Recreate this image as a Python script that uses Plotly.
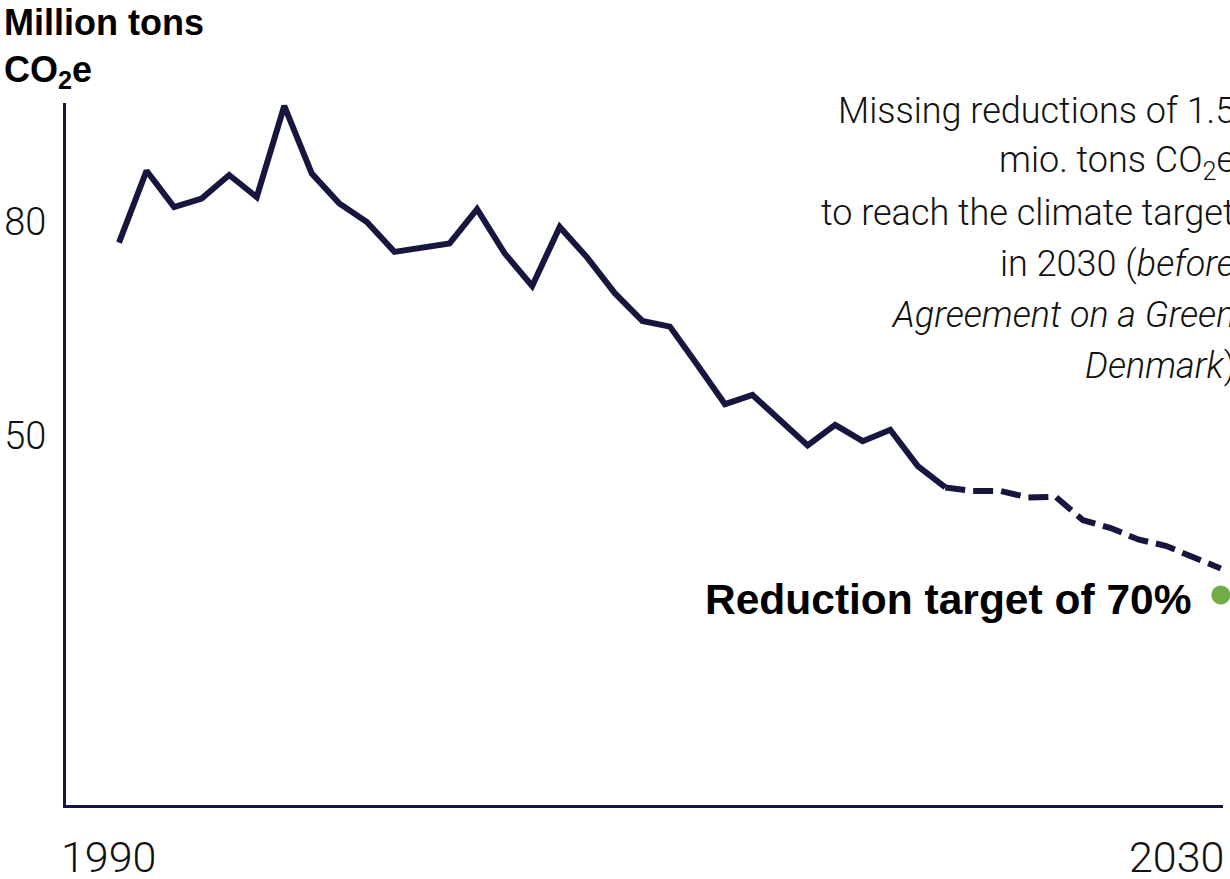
import plotly.graph_objects as go

# Historical emissions, 1990-2020 (million tons CO2e)
hist_years = list(range(1990, 2021))
hist_values = [77.1, 87.2, 82.1, 83.3, 86.6, 83.5, 96.3, 86.8, 82.6, 80.0,
               75.8, 76.4, 77.0, 81.8, 75.6, 71.0, 79.3, 75.0, 70.0, 66.1,
               65.3, 59.9, 54.4, 55.7, 52.2, 48.6, 51.5, 49.2, 50.8, 45.7,
               42.7]

# Projection, 2020-2030
proj_years = list(range(2020, 2031))
proj_values = [42.7, 42.2, 42.2, 41.3, 41.4, 38.1, 37.0, 35.4, 34.5, 33.0, 31.3]

# 70% reduction target in 2030
target_year = 2030
target_value = 27.6

y_ticks = [50, 80]
x_labels = ["1990", "2030"]

note_lines = [
    "Missing reductions of 1.5",
    "mio. tons CO<sub>2</sub>e",
    "to reach the climate target",
    "in 2030 (<i>before</i>",
    "<i>Agreement on a Green</i>",
    "<i>Denmark</i>)",
]

NAVY = "#16163f"
GREEN = "#70ad47"
LIGHT_FONT = "Roboto Light, Roboto, sans-serif"
BOLD_FONT = "Liberation Sans, Arial, sans-serif"

fig = go.Figure()

fig.add_trace(go.Scatter(
    x=hist_years, y=hist_values, mode="lines",
    line=dict(color=NAVY, width=6), cliponaxis=False, hoverinfo="skip",
))
fig.add_trace(go.Scatter(
    x=proj_years, y=proj_values, mode="lines",
    line=dict(color=NAVY, width=6, dash="20px,8px"), cliponaxis=False,
    hoverinfo="skip",
))
fig.add_trace(go.Scatter(
    x=[target_year], y=[target_value], mode="markers",
    marker=dict(color=GREEN, size=19), cliponaxis=False, hoverinfo="skip",
))

light = dict(family=LIGHT_FONT, color="#111111", weight=300)

annotations = [
    dict(text="<b>Reduction target of 70%</b>", x=target_year, y=target_value,
         xref="x", yref="y", xanchor="right", yanchor="middle", xshift=-28,
         yshift=-5, showarrow=False,
         font=dict(family=BOLD_FONT, size=42.5, color="#000000")),
    dict(text="<b>Million tons</b><br><b>CO<sub>2</sub>e</b>", x=-0.055,
         y=1.147, xref="paper", yref="paper", xanchor="left", yanchor="top",
         align="left", showarrow=False,
         font=dict(family=BOLD_FONT, size=36, color="#000000")),
    dict(text=x_labels[0], x=0, y=0, xref="paper", yref="paper",
         xanchor="left", yanchor="top", xshift=-7, yshift=-25, showarrow=False,
         font=dict(size=43, **light)),
    dict(text=x_labels[1], x=1, y=0, xref="paper", yref="paper",
         xanchor="right", yanchor="top", xshift=3, yshift=-25, showarrow=False,
         font=dict(size=43, **light)),
]

# Explanatory note, one line per annotation, right-aligned past the plot edge
note_top = 111
note_step = 51
for i, line in enumerate(note_lines):
    annotations.append(dict(
        text=line, x=1.012, y=1, xref="paper", yref="paper",
        xanchor="right", yanchor="middle", align="right", showarrow=False,
        yshift=103 - (note_top + i * note_step),
        font=dict(size=36, **light),
    ))

fig.update_layout(
    width=1230, height=879,
    margin=dict(l=66, r=7, t=103, b=74),
    paper_bgcolor="white", plot_bgcolor="white",
    showlegend=False,
    annotations=annotations,
    xaxis=dict(range=[1988.076, 2030.08], showgrid=False, zeroline=False,
               showline=True, linecolor=NAVY, linewidth=3,
               showticklabels=False, ticks="", automargin=False),
    yaxis=dict(range=[-1.92, 96.72], showgrid=False, zeroline=False,
               showline=True, linecolor=NAVY, linewidth=3,
               tickvals=y_ticks, ticktext=[str(v) for v in y_ticks],
               ticks="", ticklabelstandoff=9, automargin=False,
               tickfont=dict(size=38, **light)),
)

fig.write_html("out.html")
